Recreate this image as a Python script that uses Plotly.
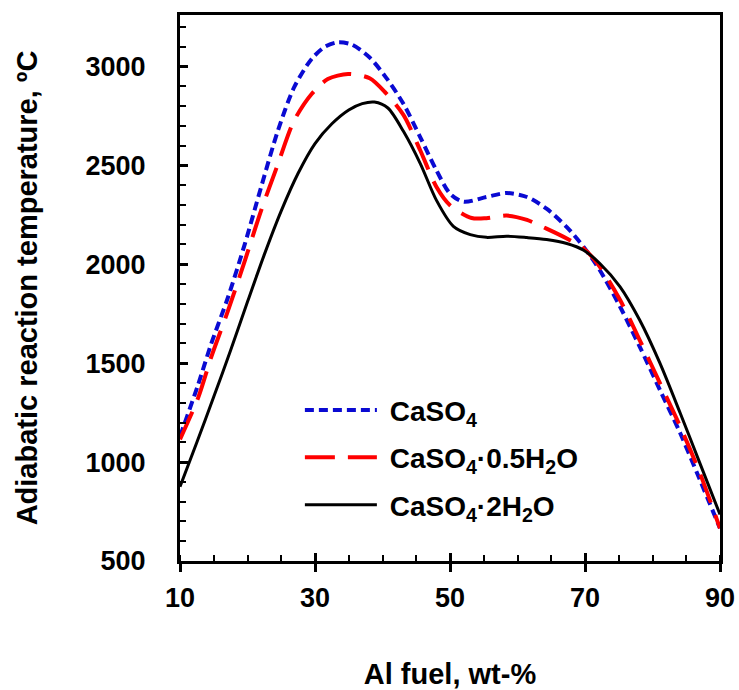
import plotly.graph_objects as go

# Data
x_caso4 = [10, 12.7, 14.6, 17.1, 19.6, 22.0, 24.5, 26.9, 29.5, 31.5, 33.4, 35.5, 38.1, 40.5, 43.1, 45.6, 48.0,
           50.0, 52.0, 55.4, 58.4, 61.4, 64.3, 67.3, 69.8, 72.2, 75.2, 78.1, 81.1, 84.1, 87.0, 90]
t_caso4 = [1130, 1393, 1596, 1832, 2102, 2388, 2675, 2894, 3038, 3100, 3122, 3110, 3045, 2945, 2811, 2642, 2474,
           2357, 2316, 2340, 2360, 2340, 2281, 2188, 2088, 1970, 1785, 1584, 1365, 1147, 912, 665]

x_hemi = [10, 12.7, 14.6, 17.1, 19.6, 22.0, 24.5, 26.9, 29.5, 31.9, 34.9, 38.1, 40.5, 43.1, 45.6, 48.0,
          50.0, 53.2, 55.4, 58.4, 61.4, 64.3, 67.3, 69.8, 72.2, 75.2, 78.1, 81.1, 84.1, 87.0, 90]
t_hemi = [1115, 1326, 1528, 1764, 2017, 2270, 2506, 2726, 2861, 2936, 2962, 2940, 2865, 2755, 2575, 2390,
          2298, 2234, 2233, 2246, 2224, 2180, 2130, 2080, 1987, 1819, 1617, 1399, 1180, 946, 665]

x_dihy = [10, 12.5, 15, 17.5, 20, 22.5, 25, 27.5, 30, 32.5, 35, 37, 38.8, 40.8, 43.1, 45.6, 48.0,
          50.5, 53.0, 55.4, 58.4, 61.4, 64.3, 67.3, 69.8, 72.2, 75.2, 78.1, 81.1, 84.1, 87.0, 90]
t_dihy = [875, 1100, 1330, 1565, 1810, 2050, 2270, 2460, 2610, 2710, 2780, 2812, 2820, 2790, 2672, 2509, 2323,
          2192, 2150, 2136, 2142, 2135, 2125, 2105, 2071, 2004, 1886, 1718, 1500, 1248, 996, 735]

names = ["\u00a0CaSO<sub>4</sub>", "\u00a0CaSO<sub>4</sub>·0.5H<sub>2</sub>O", "\u00a0CaSO<sub>4</sub>·2H<sub>2</sub>O"]
x_major = [10, 30, 50, 70, 90]
y_major = [500, 1000, 1500, 2000, 2500, 3000]

FONT = "Liberation Sans, Arial, sans-serif"

fig = go.Figure()
fig.add_trace(go.Scatter(x=x_caso4, y=t_caso4, mode="lines", name=names[0], legendgroup="a",
                         line=dict(color="#0a0ad2", width=4, dash="9px,5px", shape="spline", smoothing=0.8)))
fig.add_trace(go.Scatter(x=x_hemi, y=t_hemi, mode="lines", name=names[1], legendgroup="b",
                         line=dict(color="#ff0000", width=4, dash="30px,13px", shape="spline", smoothing=0.8)))
fig.add_trace(go.Scatter(x=x_dihy, y=t_dihy, mode="lines", name=names[2], legendgroup="c",
                         line=dict(color="#000000", width=3, shape="spline", smoothing=0.8)))
# invisible trace on overlay axis for crossing major x ticks
fig.add_trace(go.Scatter(x=[10, 90], y=[500, 500], xaxis="x2", mode="lines",
                         line=dict(width=0), showlegend=False, hoverinfo="skip"))

fig.update_layout(
    width=739, height=690,
    margin=dict(l=180, r=19, t=15, b=129, autoexpand=False),
    paper_bgcolor="white", plot_bgcolor="white",
    font=dict(family=FONT, size=27, color="black", weight="bold"),
    showlegend=True,
    legend=dict(x=0.222, y=0.322, xanchor="left", yanchor="top", bgcolor="rgba(0,0,0,0)",
                font=dict(family=FONT, size=28, color="black", weight="bold"),
                tracegroupgap=8, traceorder="grouped", itemwidth=72),
    xaxis=dict(range=[10, 90], tickvals=x_major, ticks="outside", ticklen=8, tickwidth=2.5,
               tickcolor="black", showline=True, linewidth=3, linecolor="black", mirror=True,
               showgrid=False, zeroline=False, ticklabelstandoff=3, automargin=False,
               minor=dict(dtick=5, tick0=10, ticks="inside", ticklen=6, tickwidth=2, tickcolor="black",
                          showgrid=False),
               title=dict(text="Al fuel, wt-%", font=dict(size=29, weight="bold"), standoff=67)),
    xaxis2=dict(range=[10, 90], overlaying="x", anchor="y", side="bottom", tickvals=x_major,
                ticks="inside", ticklen=8, tickwidth=2.5, tickcolor="black", showticklabels=False,
                showline=False, showgrid=False, zeroline=False, automargin=False),
    yaxis=dict(range=[500, 3260], tickvals=y_major, ticks="inside", ticklen=8, tickwidth=2.5,
               tickcolor="black", showline=True, linewidth=3, linecolor="black", mirror=True,
               showgrid=False, zeroline=False, ticklabelstandoff=26, automargin=False,
               minor=dict(dtick=100, tick0=500, ticks="inside", ticklen=6, tickwidth=2, tickcolor="black",
                          showgrid=False),
               title=dict(text="Adiabatic reaction temperature, ºC", font=dict(size=29, weight="bold"),
                          standoff=40)),
)

fig.write_html("out.html")
